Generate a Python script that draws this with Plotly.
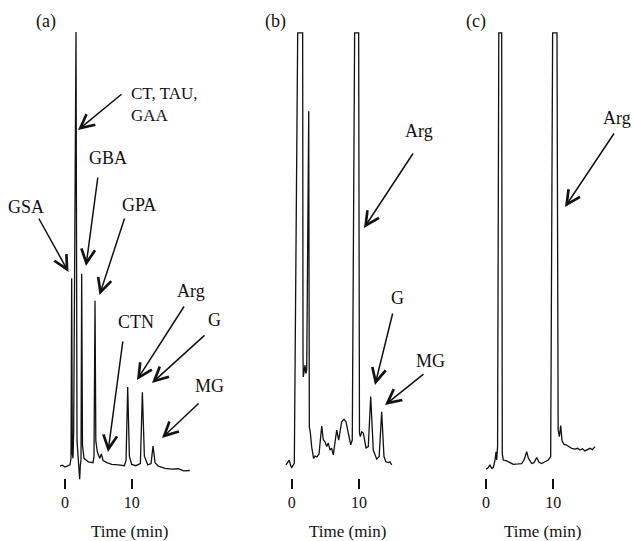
import plotly.graph_objects as go

# ---------------- data (time in min, detector signal in arbitrary units) ----------------
time_a = [-0.75, -0.4, 0.0, 0.4, 0.75, 0.9, 1.0, 1.1, 1.2, 1.3, 1.65, 1.8, 1.95, 2.05, 2.2, 2.3, 2.4,
          2.5, 2.62, 2.85, 3.5, 4.2, 4.35, 4.5, 4.62, 4.85, 5.2, 5.45, 5.7, 6.3, 7.0, 8.0, 8.9, 9.15,
          9.4, 9.65, 10.0, 10.6, 11.3, 11.6, 11.9, 12.4, 12.9, 13.2, 13.5, 14.0, 15.0, 16.0, 17.0,
          17.8, 18.7]
signal_a = [0.2, 0.4, 0.0, 0.3, 0.5, 2.0, 43.4, 3.0, 2.0, 8.0, 100.0, 6.0, 3.0, 1.5, -2.8, 0.5, 1.5,
            44.4, 5.0, 2.0, 1.2, 1.0, 2.5, 38.2, 6.0, 3.5, 2.0, 3.0, 1.5, 1.0, 0.6, 0.5, 0.3, 1.5,
            18.4, 2.5, 0.6, 0.3, 0.8, 17.2, 2.5, 0.5, 0.8, 4.8, 1.0, 0.2, -0.3, -0.5, -0.4,
            -0.9, -0.8]

time_b = [-0.85, -0.6, -0.36, -0.15, 0.0, 0.24, 0.39, 0.89, 1.63, 1.68, 1.72, 1.98, 2.1, 2.23, 2.53,
          2.62, 2.76, 2.97, 3.12, 3.25, 3.46, 3.76, 4.06, 4.46, 4.70, 4.95, 5.2, 5.44, 5.69, 5.94,
          6.18, 6.45, 6.69, 6.98, 7.2, 7.43, 7.77, 8.07, 8.41, 8.77, 9.0, 9.35, 9.95, 10.07, 10.2,
          10.4, 10.64, 11.04, 11.38, 11.74, 12.12, 12.4, 12.63, 13.0, 13.37, 13.71, 14.0, 14.35,
          14.6, 14.86]
signal_b = [0.5, 1.2, 1.6, 0.3, -0.1, 0.5, 0.9, 99.8, 99.8, 25.7, 20.7, 23.4, 21.5, 22.3, 81.8,
            9.2, 8.0, 4.6, 2.8, 2.0, 2.5, 2.3, 3.0, 9.4, 6.2, 5.8, 4.7, 5.5, 3.9, 4.3,
            2.8, 5.5, 8.5, 6.2, 8.0, 10.4, 11.0, 10.4, 7.8, 5.1, 6.2, 99.8, 99.8, 7.8, 7.0,
            8.1, 7.8, 4.4, 4.7, 16.2, 3.9, 2.5, 1.8, 2.4, 12.7, 2.4, 1.2, 1.0,
            1.2, 0.5]

time_c = [0.0, 0.35, 0.59, 0.84, 1.09, 1.34, 1.49, 1.59, 1.72, 1.9, 2.33, 2.42, 2.58, 3.07, 3.57,
          4.06, 4.8, 5.3, 5.65, 6.05, 6.3, 6.79, 7.13, 7.53, 7.88, 8.27, 8.77, 9.26, 9.61, 9.9,
          10.55, 10.72, 10.9, 11.1, 11.3, 11.6, 11.89, 12.23, 12.73, 13.22, 13.6, 13.97, 14.35,
          14.7, 15.1, 15.45, 15.8, 16.2]
signal_c = [-0.5, -0.1, 0.5, -0.3, -0.1, 1.6, 3.5, 1.6, 4.7, 99.8, 99.8, 3.0, 1.6, 1.4, 1.0,
            0.6, 0.7, 0.8, 1.6, 3.5, 2.0, 0.8, 1.0, 2.2, 1.1, 0.8, 1.2, 1.6, 2.4, 99.8,
            99.8, 8.5, 7.0, 9.5, 6.0, 5.2, 5.1, 4.7, 4.3, 4.1, 4.3, 3.9, 4.2,
            3.7, 4.1, 4.3, 4.0, 4.7]

tick_vals = [0, 10]
tick_text = ["0", "10"]
panel_labels = ["(a)", "(b)", "(c)"]
x_title = "Time (min)"

# peak labels per panel
labels_a = ["GSA", "CT, TAU,<br>GAA", "GBA", "GPA", "CTN", "Arg", "G", "MG"]
labels_b = ["Arg", "G", "MG"]
labels_c = ["Arg"]

# ---------------- layout helpers (pixel geometry of the 634x541 page) ----------------
W, H = 634, 541
FONT = "Liberation Serif"

def fx(px):
    return px / W

def fy(py):
    return 1 - py / H

# x geometry: (domain left px, domain right px, px of t=0, px per minute)
xgeo = [(30, 250, 65.0, 6.67), (260, 455, 291.7, 6.73), (462, 634, 486.0, 6.73)]
# y geometry: baseline px and px per unit
Y0, YS = 467.0, 4.35
Y_TOP, Y_BOT = 20, 480
AXIS_PX = 478

fig = go.Figure()
series = [(time_a, signal_a), (time_b, signal_b), (time_c, signal_c)]
for i, (t, s) in enumerate(series):
    n = "" if i == 0 else str(i + 1)
    fig.add_trace(go.Scatter(x=t, y=s, mode="lines", line=dict(color="#111111", width=1.3),
                             xaxis="x" + n, yaxis="y" + n, showlegend=False, hoverinfo="skip"))
    l, r, z, ppm = xgeo[i]
    fig.layout["xaxis" + n] = dict(
        domain=[fx(l), fx(r)], range=[(l - z) / ppm, (r - z) / ppm],
        anchor="free", position=fy(AXIS_PX), showline=False, showgrid=False, zeroline=False,
        tickvals=tick_vals, ticktext=tick_text, ticks="outside", ticklen=10, tickwidth=1.6,
        tickcolor="#111111", tickfont=dict(family=FONT, size=16, color="#111111"), fixedrange=True)
    fig.layout["yaxis" + n] = dict(
        domain=[fy(Y_BOT), fy(Y_TOP)], range=[(Y0 - Y_BOT) / YS, (Y0 - Y_TOP) / YS],
        visible=False, anchor="x" + n, fixedrange=True)

annotations = []

def text(t, x, y, size=18, xanchor="center", align="center"):
    annotations.append(dict(text=t, x=fx(x), y=fy(y), xref="paper", yref="paper",
                            showarrow=False, xanchor=xanchor, yanchor="middle", align=align,
                            font=dict(family=FONT, size=size, color="#111111")))

def arrow(tail, head):
    annotations.append(dict(text="", x=fx(head[0]), y=fy(head[1]), xref="paper", yref="paper",
                            ax=tail[0] - head[0], ay=tail[1] - head[1], showarrow=True,
                            arrowhead=5, arrowsize=1.8, arrowwidth=1.5, arrowcolor="#111111",
                            standoff=0, startstandoff=0))

# panel labels and axis titles
for lab, x in zip(panel_labels, [46, 275, 476]):
    text(lab, x, 21)
for x in [129, 347, 542]:
    text(x_title, x, 531, size=17)

# panel (a)
text(labels_a[0], 26, 207)
arrow((38, 217), (68.5, 272))
text(labels_a[1], 129, 104, size=17, xanchor="left", align="left")
arrow((123, 93), (78, 130))
text(labels_a[2], 108, 158)
arrow((98, 176), (86, 266))
text(labels_a[3], 139, 205)
arrow((125, 217), (99.5, 295))
text(labels_a[4], 136, 322)
arrow((123, 340), (108, 452))
text(labels_a[5], 191, 291)
arrow((185, 305), (137, 380))
text(labels_a[6], 214, 320)
arrow((206, 334), (152, 383))
text(labels_a[7], 209, 386)
arrow((200, 402), (162, 438))

# panel (b)
text(labels_b[0], 419, 131)
arrow((414, 152), (364, 228))
text(labels_b[1], 397, 298)
arrow((393, 312), (375, 385))
text(labels_b[2], 430, 361)
arrow((425, 373), (385, 405))

# panel (c)
text(labels_c[0], 617, 118)
arrow((615, 132), (565, 207))

fig.update_layout(width=W, height=H, margin=dict(l=0, r=0, t=0, b=0),
                  paper_bgcolor="white", plot_bgcolor="rgba(0,0,0,0)",
                  annotations=annotations, showlegend=False,
                  font=dict(family=FONT, color="#111111"))

fig.write_html("out.html",
               config={"displayModeBar": False, "staticPlot": True},
               post_script="document.body.style.margin='0';document.body.style.overflow='hidden';")
